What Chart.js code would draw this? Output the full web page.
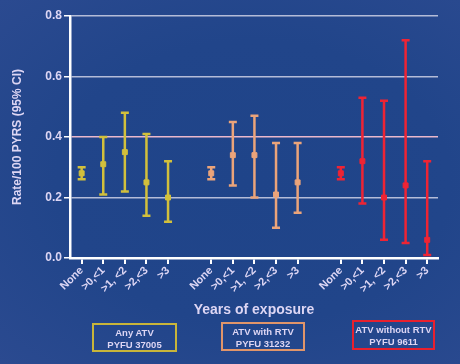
<!DOCTYPE html>
<html>
<head>
<meta charset="utf-8">
<script src="https://cdn.jsdelivr.net/npm/chart.js@4/dist/chart.umd.min.js"></script>
<style>
  html, body { margin: 0; padding: 0; }
  body {
    width: 460px; height: 364px; overflow: hidden; position: relative;
    background: radial-gradient(ellipse at 55% 50%, #1f4489 0%, #21458a 55%, #2b4a90 100%);
    font-family: "Liberation Sans", Arial, sans-serif;
  }
  #wrap { position: absolute; left: 0; top: 0; width: 460px; height: 364px; }
  .box {
    position: absolute; box-sizing: border-box; border: 2px solid;
    color: #ddd6f4; font-weight: bold; font-size: 9.5px; line-height: 12px;
    text-align: center; padding-top: 2px;
  }
</style>
</head>
<body>
<div id="wrap"><canvas id="rateChart" width="460" height="364"></canvas></div>
<div class="box" style="left:92px;top:323px;width:85px;height:29px;border-color:#c8b53a">Any ATV<br>PYFU 37005</div>
<div class="box" style="left:221px;top:322px;width:84px;height:29px;border-color:#e0956a">ATV with RTV<br>PYFU 31232</div>
<div class="box" style="left:352px;top:320px;width:83px;height:30px;border-color:#e8202e">ATV without RTV<br>PYFU 9611</div>
<script>
// exposure categories, repeated for each group
const categories = ['None', '>0,<1', '>1, <2', '>2,<3', '>3'];
const groups = ['Any ATV', 'ATV with RTV', 'ATV without RTV'];
const yTicks = [0, 0.2, 0.4, 0.6, 0.8];

// rate per 100 PYRS with 95% CI
const anyRate = [0.28, 0.31, 0.35, 0.25, 0.20];
const anyLow  = [0.26, 0.21, 0.22, 0.14, 0.12];
const anyHigh = [0.30, 0.40, 0.48, 0.41, 0.32];

const withRate = [0.28, 0.34, 0.34, 0.21, 0.25];
const withLow  = [0.26, 0.24, 0.20, 0.10, 0.15];
const withHigh = [0.30, 0.45, 0.47, 0.38, 0.38];

const withoutRate = [0.28, 0.32, 0.20, 0.24, 0.06];
const withoutLow  = [0.26, 0.18, 0.06, 0.05, 0.01];
const withoutHigh = [0.30, 0.53, 0.52, 0.72, 0.32];

const colors = ['#d2c03c', '#eba47a', '#ee2434'];
const txt = '#ddd6f4';

function toPoints(rate, low, high, g) {
  return rate.map(function (r, i) {
    return { x: g * 6 + i, y: r, low: low[i], high: high[i] };
  });
}

const seriesRate = [anyRate, withRate, withoutRate];
const seriesLow = [anyLow, withLow, withoutLow];
const seriesHigh = [anyHigh, withHigh, withoutHigh];

const datasets = groups.map(function (name, g) {
  return {
    label: name,
    data: toPoints(seriesRate[g], seriesLow[g], seriesHigh[g], g),
    showLine: false,
    pointStyle: 'rect',
    pointRadius: 3.5,
    pointBackgroundColor: colors[g],
    pointBorderColor: colors[g],
    borderColor: colors[g]
  };
});

const tickPositions = [];
groups.forEach(function (name, g) {
  categories.forEach(function (c, i) { tickPositions.push(g * 6 + i); });
});

// draws the CI whiskers and caps from the scales
const errorBars = {
  id: 'errorBars',
  beforeDatasetsDraw(chart) {
    const ctx = chart.ctx;
    const xs = chart.scales.x, ys = chart.scales.y;
    chart.data.datasets.forEach(function (ds) {
      ctx.save();
      ctx.strokeStyle = ds.borderColor;
      ctx.lineWidth = 2.5;
      ds.data.forEach(function (p) {
        const x = xs.getPixelForValue(p.x);
        const yl = ys.getPixelForValue(p.low);
        const yh = ys.getPixelForValue(p.high);
        ctx.beginPath();
        ctx.moveTo(x, yl); ctx.lineTo(x, yh);
        ctx.moveTo(x - 4, yl); ctx.lineTo(x + 4, yl);
        ctx.moveTo(x - 4, yh); ctx.lineTo(x + 4, yh);
        ctx.stroke();
      });
      ctx.restore();
    });
  }
};

const gridColor = function (ctx) {
  const v = ctx.tick ? ctx.tick.value : 0;
  if (Math.abs(v - 0.4) < 1e-6) return '#eab8cc';
  if (Math.abs(v) < 1e-6) return 'rgba(0,0,0,0)';
  return '#b4bcd8';
};

new Chart(document.getElementById('rateChart'), {
  type: 'scatter',
  data: { datasets: datasets },
  plugins: [errorBars],
  options: {
    responsive: false,
    animation: false,
    layout: { padding: { left: 4, right: 22, top: 16, bottom: 44 } },
    plugins: { legend: { display: false }, tooltip: { enabled: false } },
    scales: {
      x: {
        type: 'linear',
        min: -0.54,
        max: 16.5,
        afterBuildTicks: function (scale) {
          scale.ticks = tickPositions.map(function (v) { return { value: v }; });
        },
        afterFit: function (scale) { scale.height = 62; },
        ticks: {
          color: txt,
          font: { family: 'Liberation Sans', weight: 'bold', size: 11 },
          minRotation: 45,
          maxRotation: 45,
          padding: 0,
          callback: function (value) { return categories[Math.round(value) % 6]; }
        },
        grid: { drawOnChartArea: false, color: '#ffffff', lineWidth: 2, tickLength: 6 },
        border: { color: '#ffffff', width: 2.5 },
        title: {
          display: true,
          text: 'Years of exposure',
          color: txt,
          font: { family: 'Liberation Sans', weight: 'bold', size: 14 },
          padding: { top: 2, bottom: 1 }
        }
      },
      y: {
        min: 0,
        max: 0.8,
        afterBuildTicks: function (scale) {
          scale.ticks = yTicks.map(function (v) { return { value: v }; });
        },
        afterFit: function (scale) { scale.width = 66; },
        ticks: {
          color: txt,
          font: { family: 'Liberation Sans', weight: 'bold', size: 12 },
          padding: 2,
          callback: function (value) { return value.toFixed(1); }
        },
        grid: { color: gridColor, lineWidth: 1.5, tickLength: 6, tickColor: '#ffffff' },
        border: { color: '#ffffff', width: 2.5 },
        title: {
          display: true,
          text: 'Rate/100 PYRS (95% CI)',
          color: txt,
          font: { family: 'Liberation Sans', weight: 'bold', size: 12 },
          padding: { top: 6, bottom: 0 }
        }
      }
    }
  }
});
</script>
</body>
</html>
